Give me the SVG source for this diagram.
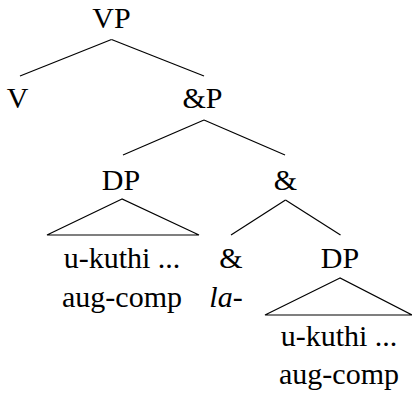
<svg xmlns="http://www.w3.org/2000/svg" width="412" height="393" viewBox="0 0 412 393" font-family="Liberation Serif, Times New Roman, Times, serif">
<style>
text{font-size:30px;fill:#000;text-anchor:middle}
.it{font-style:italic}
line,polygon{stroke:#000;stroke-width:1.2;fill:none}
</style>
<rect width="412" height="393" fill="#fff"/>
<g id="connectors">
<line x1="111.5" y1="39.5" x2="20" y2="76"/>
<line x1="111.5" y1="39.5" x2="204" y2="76"/>
<line x1="204" y1="120" x2="123" y2="155"/>
<line x1="204" y1="120" x2="285" y2="155"/>
<line x1="285.5" y1="200" x2="231" y2="235"/>
<line x1="285.5" y1="200" x2="340.5" y2="235"/>
</g>
<g id="n-VP"><text x="111.5" y="28">VP</text></g>
<g id="n-V"><text x="17.5" y="108">V</text></g>
<g id="n-andP"><text x="202.5" y="108">&amp;P</text></g>
<g id="n-DP1"><text x="121" y="190">DP</text><polygon points="122,199 47,235 199,235"/></g>
<g id="n-andbar"><text x="285.5" y="190">&amp;</text></g>
<g id="n-leaf1"><text x="122" y="268">u-kuthi ...</text><text x="122" y="307">aug-comp</text></g>
<g id="n-and"><text x="231" y="268">&amp;</text><text class="it" x="226" y="307">la-</text></g>
<g id="n-DP2"><text x="340" y="268">DP</text><polygon points="340,278 265,315 412,315"/></g>
<g id="n-leaf2"><text x="339" y="346">u-kuthi ...</text><text x="339" y="384">aug-comp</text></g>
</svg>
